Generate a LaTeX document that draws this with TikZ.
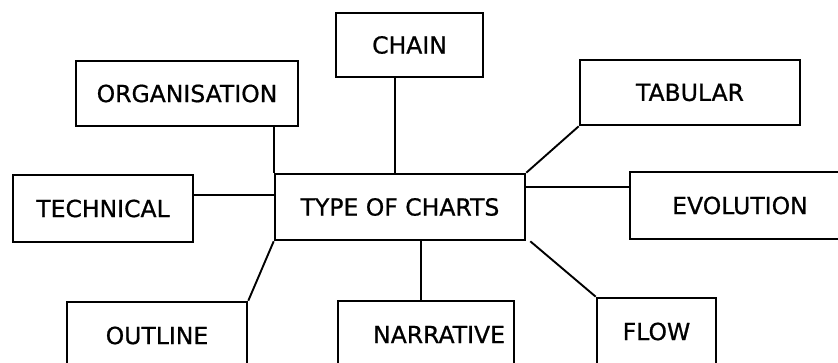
\documentclass[tikz,border=0pt]{standalone}
\usepackage{fontspec}
\setmainfont{DejaVu Sans}
\newfontfamily\chartfont{DejaVu Sans}[FakeBold=0.8]
\begin{document}
\begin{tikzpicture}[x=1pt,y=-1pt,
  box/.style={draw, line width=2.6pt, rectangle, inner sep=0pt,
    font=\chartfont\fontsize{23.5}{27}\selectfont},
  link/.style={line width=1.9pt}]
\useasboundingbox (0,0) rectangle (838,363);
\clip (0,0) rectangle (838,363);

% central node
\node[box, minimum width=250pt, minimum height=66pt] (central) at (400,207) {TYPE OF CHARTS};

% surrounding chart types
\node[box, minimum width=147pt, minimum height=64pt] (chain) at (409.5,45) {CHAIN};
\node[box, minimum width=222pt, minimum height=65pt] (org) at (187,93.5) {ORGANISATION};
\node[box, minimum width=220pt, minimum height=65pt] (tab) at (690,92.5) {TABULAR};
\node[box, minimum width=180pt, minimum height=67pt] (tech) at (103,208.5) {TECHNICAL};
\node[box, minimum width=220pt, minimum height=67pt] (evo) at (740,205.5) {EVOLUTION};
\node[box, minimum width=180pt, minimum height=67pt] (outl) at (157,335.5) {OUTLINE};
\node[box, text width=158pt, align=right, inner xsep=9pt, minimum height=67pt] (narr) at (426,334.5) {NARRATIVE};
\node[box, minimum width=119pt, minimum height=67pt] (flow) at (656.5,331.5) {FLOW};

% connectors
\draw[link] (central.north west |- org.south) -- (central.north west);
\draw[link] ([xshift=-14.5pt]chain.south) -- ([xshift=-14.5pt]chain.south |- central.north);
\draw[link] (tab.south west) -- (central.north east);
\draw[link] ([yshift=13.5pt]tech.east) -- ([yshift=13.5pt]tech.east -| central.west);
\draw[link] ([yshift=20pt]central.east) -- ([yshift=20pt]central.east -| evo.west);
\draw[link] (outl.north east) -- (central.south west);
\draw[link] ([xshift=21pt]central.south) -- ([xshift=21pt]central.south |- narr.north);
\draw[link] ([xshift=4pt]central.south east) -- (flow.north west);
\end{tikzpicture}
\end{document}
